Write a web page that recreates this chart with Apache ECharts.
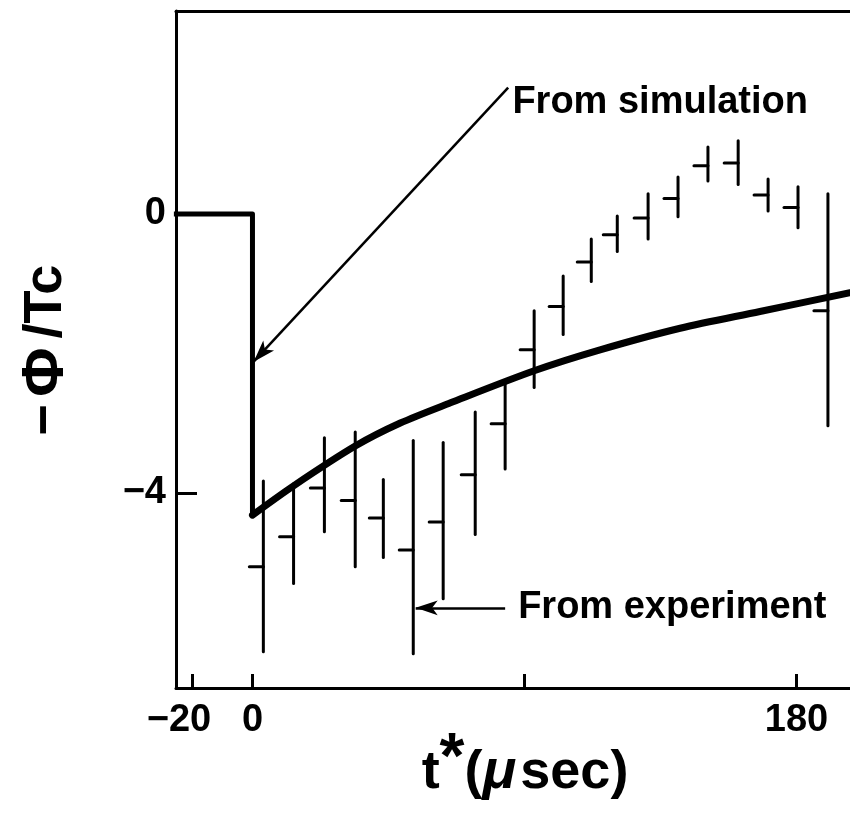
<!DOCTYPE html>
<html>
<head>
<meta charset="utf-8">
<script src="https://cdn.jsdelivr.net/npm/echarts@6/dist/echarts.min.js"></script>
<style>
html,body{margin:0;padding:0;background:#fff;}
#c{width:850px;height:815px;}
</style>
</head>
<body>
<div id="c"></div>
<script>
// ---- data ----
var xTickValues = [-20, 0, 90, 180];
var xLabelValues = [-20, 0, 180];
var yTickValues = [-4, 0];
var yLabelValues = [-4, 0];

// simulation: flat part and sudden drop at t = 0
var simStep = [[-26, 0], [0, 0], [0, -4.32]];
// simulation: recovery curve after the drop
var simCurve = [[0, -4.32], [13.6, -3.90], [34, -3.33], [48.9, -3.00], [65.5, -2.71],
                [93.2, -2.25], [115, -1.95], [141.5, -1.64], [167.9, -1.40], [197.7, -1.13]];

// experiment: time, mean, lower end, upper end
var expT    = [3.6, 13.6, 23.8, 34.0, 43.3, 53.2, 63.1, 73.7, 83.6, 93.2, 102.8, 112.1, 120.7, 130.9, 140.8, 150.7, 160.7, 170.6, 180.5, 190.4];
var expMean = [-5.06, -4.63, -3.93, -4.11, -4.36, -4.82, -4.42, -3.74, -3.01, -1.95, -1.33, -0.69, -0.30, -0.06, 0.22, 0.69, 0.73, 0.27, 0.09, -1.39];
var expLow  = [-6.28, -5.30, -4.56, -5.06, -4.93, -6.31, -5.52, -4.60, -3.66, -2.49, -1.73, -0.97, -0.54, -0.36, -0.04, 0.47, 0.42, 0.04, -0.20, -3.04];
var expHigh = [-3.83, -3.87, -3.21, -3.13, -3.81, -3.25, -3.28, -2.84, -2.42, -1.39, -0.89, -0.36, -0.03, 0.29, 0.53, 0.96, 1.05, 0.50, 0.39, 0.29];

// annotations (data coordinates)
var simArrow = [[84.6, 1.81], [0.4, -2.12]];
var simText = {t: 86, v: 1.60, text: 'From simulation'};
var expArrow = [[83.6, -5.65], [54.0, -5.65]];
var expText = {t: 87.9, v: -5.65, text: 'From experiment'};

var expData = expT.map(function (t, i) { return [t, expMean[i], expLow[i], expHigh[i]]; });

var FONT = '"Liberation Sans", Arial, sans-serif';
var chart = echarts.init(document.getElementById('c'), null, {renderer: 'canvas'});

function tickFmt(v) { return v < 0 ? '{n|\u2212' + (-v) + '}' : '{p|' + v + '}'; }
var tickRich = {
  n: {fontSize: 38, fontWeight: 'bold', fontFamily: FONT, color: '#000', padding: [0, 26, 0, 0]},
  p: {fontSize: 38, fontWeight: 'bold', fontFamily: FONT, color: '#000'}
};
function yFmt(v) { return v < 0 ? '\u2212' + (-v) : String(v); }

var option = {
  animation: false,
  backgroundColor: '#fff',
  grid: {left: 176, top: 11, width: 674, height: 677, containLabel: false},
  xAxis: [{
    type: 'value', min: -25.3, max: 197.7,
    axisLine: {show: true, onZero: false, lineStyle: {color: '#000', width: 3}},
    axisTick: {show: true, inside: true, length: 14, customValues: xTickValues, lineStyle: {color: '#000', width: 3}},
    axisLabel: {show: true, customValues: xLabelValues, formatter: tickFmt, rich: tickRich, margin: 14,
      color: '#000', fontSize: 38, fontWeight: 'bold', fontFamily: FONT},
    splitLine: {show: false}
  }, {
    type: 'value', position: 'top', min: -25.3, max: 197.7,
    axisLine: {show: true, onZero: false, lineStyle: {color: '#000', width: 3}},
    axisTick: {show: false}, axisLabel: {show: false}, splitLine: {show: false}
  }],
  yAxis: {
    type: 'value', min: -6.8, max: 2.91,
    axisLine: {show: true, onZero: false, lineStyle: {color: '#000', width: 3}},
    axisTick: {show: true, inside: true, length: 21, customValues: yTickValues, lineStyle: {color: '#000', width: 3}},
    axisLabel: {show: true, customValues: yLabelValues, formatter: yFmt, margin: 10,
      color: '#000', fontSize: 38, fontWeight: 'bold', fontFamily: FONT},
    splitLine: {show: false}
  },
  series: [
    {
      type: 'line', data: simStep, showSymbol: false, symbol: 'none', clip: true,
      lineStyle: {color: '#000', width: 5, join: 'round'}, z: 3
    },
    {
      type: 'line', data: simCurve, showSymbol: false, symbol: 'none', smooth: 0.3, clip: true,
      lineStyle: {color: '#000', width: 7, cap: 'round'}, z: 3
    },
    {
      type: 'custom', data: expData, clip: true, z: 4,
      renderItem: function (params, api) {
        var x = api.value(0), m = api.value(1), lo = api.value(2), hi = api.value(3);
        var pHi = api.coord([x, hi]), pLo = api.coord([x, lo]), pM = api.coord([x, m]);
        return {
          type: 'group',
          children: [
            {type: 'line', shape: {x1: pHi[0], y1: pHi[1], x2: pLo[0], y2: pLo[1]},
             style: {stroke: '#000', lineWidth: 3, lineCap: 'round'}},
            {type: 'line', shape: {x1: pM[0] - 14, y1: pM[1], x2: pM[0], y2: pM[1]},
             style: {stroke: '#000', lineWidth: 3, lineCap: 'round'}}
          ]
        };
      }
    },
    {
      type: 'line', data: [], z: 5,
      markLine: {
        silent: true, symbol: ['none', 'arrow'], symbolSize: [11, 22], precision: 4,
        label: {show: false},
        lineStyle: {color: '#000', width: 2.5, type: 'solid'},
        data: [
          [{coord: simArrow[0]}, {coord: simArrow[1]}],
          [{coord: expArrow[0]}, {coord: expArrow[1]}]
        ]
      }
    }
  ]
};
chart.setOption(option);

function px(t, v) { return chart.convertToPixel({xAxisIndex: 0, yAxisIndex: 0}, [t, v]); }
var pS = px(simText.t, simText.v), pE = px(expText.t, expText.v);
chart.setOption({
  graphic: [
    {type: 'text', x: pS[0], y: pS[1], style: {text: simText.text, fill: '#000', font: 'bold 38px ' + FONT, textAlign: 'left', textVerticalAlign: 'middle'}},
    {type: 'text', x: pE[0], y: pE[1], style: {text: expText.text, fill: '#000', font: 'bold 38px ' + FONT, textAlign: 'left', textVerticalAlign: 'middle'}},
    {type: 'text', x: 46, y: 350, rotation: Math.PI / 2,
     style: {
       text: '{a|\u2212}{f|\u03A6}{a|/Tc}', textAlign: 'center', textVerticalAlign: 'middle',
       rich: {
         a: {fontSize: 54, fontWeight: 'bold', fontFamily: FONT, color: '#000', padding: [0, 3, 0, 3]},
         f: {fontSize: 60, fontWeight: 'bold', fontFamily: FONT, color: '#000', padding: [0, 6, 0, 4]}
       }
     }},
    {type: 'text', x: 525, y: 773,
     style: {
       text: '{a|t}{s|*}{a|(}{m|\u03BC}{a|sec)}', textAlign: 'center', textVerticalAlign: 'middle',
       rich: {
         a: {fontSize: 54, fontWeight: 'bold', fontFamily: FONT, color: '#000'},
         s: {fontSize: 64, fontWeight: 'bold', fontFamily: FONT, color: '#000', verticalAlign: 'top', padding: [0, 0, 26, 0]},
         m: {fontSize: 56, fontWeight: 'bold', fontStyle: 'italic', fontFamily: FONT, color: '#000', padding: [0, 4, 0, 0]}
       }
     }}
  ]
});
</script>
</body>
</html>
